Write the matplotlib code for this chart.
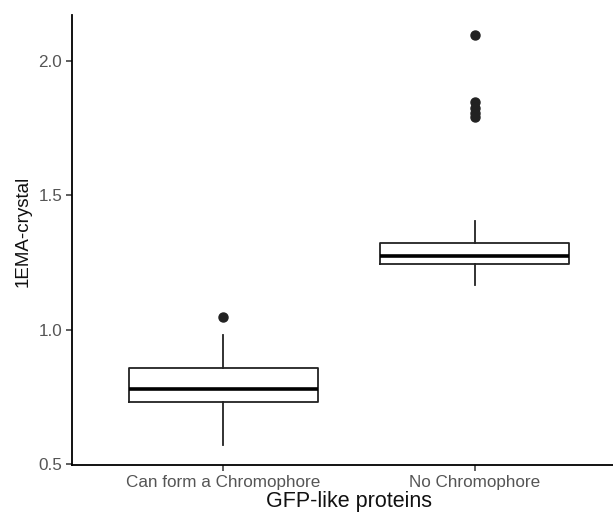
import matplotlib
matplotlib.use("Agg")
import matplotlib.pyplot as plt

categories = ["Can form a Chromophore", "No Chromophore"]
q1 = [0.733, 1.244]
median = [0.781, 1.274]
q3 = [0.859, 1.322]
whisker_low = [0.574, 1.167]
whisker_high = [0.981, 1.404]
outliers = [[1.048], [2.093, 1.845, 1.825, 1.805, 1.792]]

plt.rcParams['font.family'] = ['Liberation Sans', 'DejaVu Sans']

fig = plt.figure(figsize=(6.13, 5.16), dpi=100)
W, H = 613, 516
ax = fig.add_axes([72 / W, 51 / H, (626 - 72) / W, 450 / H])

stats = []
for i in range(2):
    stats.append(dict(med=median[i], q1=q1[i], q3=q3[i], whislo=whisker_low[i],
                      whishi=whisker_high[i], fliers=outliers[i], label=categories[i]))

ax.bxp(stats, positions=[1, 2], widths=0.75, showcaps=False,
       boxprops=dict(color='#222222', linewidth=1.3),
       medianprops=dict(color='black', linewidth=2.6),
       whiskerprops=dict(color='#222222', linewidth=1.3),
       flierprops=dict(marker='o', markerfacecolor='#222222', markeredgecolor='#222222',
                       markersize=6.5))

ax.set_xlim(0.4, 2.6)
ax.set_ylim(0.498, 2.169)
ax.set_yticks([0.5, 1.0, 1.5, 2.0])
ax.set_yticklabels(["0.5", "1.0", "1.5", "2.0"])
for s in ['top', 'right']:
    ax.spines[s].set_visible(False)
for s in ['left', 'bottom']:
    ax.spines[s].set_linewidth(1.3)
    ax.spines[s].set_color('black')
ax.tick_params(axis='both', length=4, width=1.1, color='#333333', labelcolor='#555555',
               labelsize=12.3, pad=3)
ax.set_xlabel("GFP-like proteins", fontsize=15.5, color='#111111', labelpad=1)
ax.set_ylabel("1EMA-crystal", fontsize=13.5, color='#111111')
ax.yaxis.set_label_coords(-0.072, 0.52)

fig.savefig("out.png", dpi=100)
